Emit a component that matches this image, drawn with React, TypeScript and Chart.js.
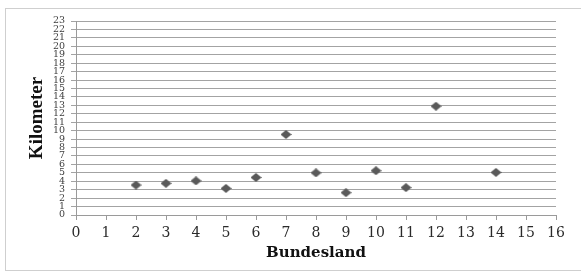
import React, { useEffect, useRef } from "react";
import { Chart, registerables } from "chart.js";

Chart.register(...registerables);

const bundesland = [2, 3, 4, 5, 6, 7, 8, 9, 10, 11, 12, 14];
const kilometer = [3.55, 3.75, 4.05, 3.15, 4.45, 9.55, 5.0, 2.65, 5.25, 3.25, 12.9, 5.05];
const xTitle = "Bundesland";
const yTitle = "Kilometer";

function makeDiamond(): HTMLCanvasElement {
  const c = document.createElement("canvas");
  c.width = 11;
  c.height = 9;
  const ctx = c.getContext("2d")!;
  ctx.fillStyle = "#5a5a5a";
  ctx.beginPath();
  ctx.moveTo(5.5, 0);
  ctx.lineTo(11, 4.5);
  ctx.lineTo(5.5, 9);
  ctx.lineTo(0, 4.5);
  ctx.closePath();
  ctx.fill();
  return c;
}

const frame = {
  id: "frame",
  beforeDraw(chart: any) {
    const ctx = chart.ctx;
    ctx.save();
    ctx.fillStyle = "#ffffff";
    ctx.fillRect(0, 0, chart.width, chart.height);
    ctx.strokeStyle = "#cfcfcf";
    ctx.lineWidth = 1;
    ctx.strokeRect(5.5, 8.5, chart.width + 10, chart.height - 11);
    ctx.restore();
  },
};

export default function App() {
  const ref = useRef<HTMLCanvasElement>(null);
  useEffect(() => {
    document.body.style.margin = "0";
    const serif = "'Liberation Serif', 'Times New Roman', serif";
    const wide = "'DejaVu Serif', serif";
    const chart = new Chart(ref.current!, {
      type: "scatter",
      data: {
        datasets: [
          {
            data: bundesland.map((x, i) => ({ x, y: kilometer[i] })),
            pointStyle: makeDiamond() as any,
            backgroundColor: "#5a5a5a",
            borderColor: "#5a5a5a",
          },
        ],
      },
      options: {
        animation: false,
        responsive: false,
        devicePixelRatio: 1,
        layout: { padding: { top: 21, right: 25, left: 0, bottom: 0 } },
        plugins: { legend: { display: false }, tooltip: { enabled: false } },
        scales: {
          x: {
            type: "linear",
            min: 0,
            max: 16,
            afterFit: (s: any) => {
              s.height = 58;
            },
            ticks: {
              stepSize: 1,
              autoSkip: false,
              maxRotation: 0,
              padding: 5,
              color: "#2a2a2a",
              font: { family: wide, size: 14 },
            },
            grid: {
              drawOnChartArea: false,
              drawTicks: true,
              tickLength: 5,
              color: "#9a9a9a",
            },
            border: { color: "#9a9a9a" },
            title: {
              display: true,
              text: xTitle,
              color: "#111111",
              font: { family: wide, size: 15, weight: "bold" },
              padding: { top: 0, bottom: 11 },
            },
          },
          y: {
            type: "linear",
            min: 0,
            max: 23,
            afterFit: (s: any) => {
              s.width = 76;
            },
            ticks: {
              stepSize: 1,
              autoSkip: false,
              padding: 6,
              color: "#404040",
              font: { family: wide, size: 9.5 },
            },
            grid: {
              drawOnChartArea: true,
              drawTicks: true,
              tickLength: 5,
              color: "#a3a3a3",
            },
            border: { color: "#9a9a9a" },
            title: {
              display: true,
              text: yTitle,
              color: "#111111",
              font: { family: serif, size: 19, weight: "bold" },
              padding: { top: 26, bottom: 0 },
            },
          },
        },
      },
      plugins: [frame],
    });
    return () => chart.destroy();
  }, []);
  return <canvas ref={ref} width={581} height={273} style={{ display: "block" }} />;
}
